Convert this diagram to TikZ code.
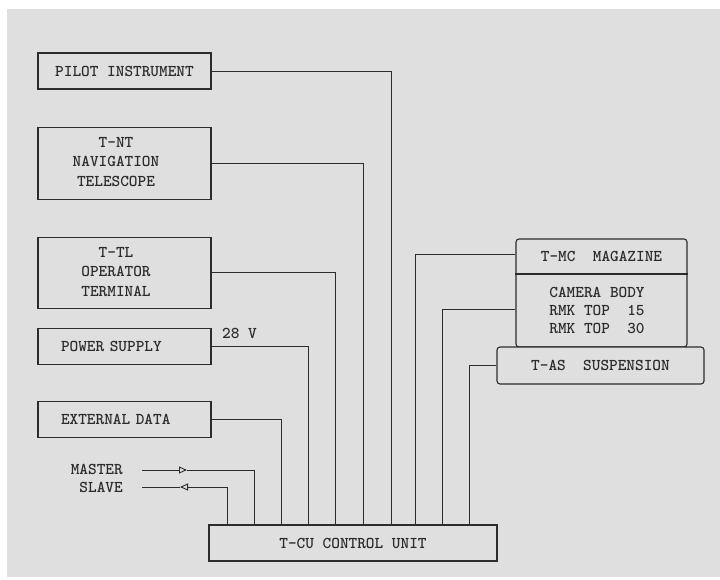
\documentclass[tikz,border=0pt]{standalone}
\usetikzlibrary{positioning,arrows.meta}
\definecolor{paperGray}{HTML}{DFDFDF}
\definecolor{inkGray}{HTML}{2C2C2C}
\newcommand{\typefont}{\fontsize{16.5}{19.5}\selectfont\ttfamily\bfseries}
\tikzset{
    unit/.style={draw=inkGray,line width=1.1pt,minimum width=173pt,
        minimum height=36pt,inner sep=0pt,align=center,font=\typefont,text=inkGray},
    roundunit/.style={unit,rounded corners=3pt},
    wire/.style={draw=inkGray,line width=0.9pt},
    sigtip/.style={wire,-{Triangle[open,length=8pt,width=7pt]}},
    tag/.style={font=\typefont,text=inkGray,inner sep=0pt}
}
\begin{document}
\begin{tikzpicture}[x=1pt,y=1pt,node distance=37pt]
    \useasboundingbox (0,0) rectangle (720,579);
    \fill[paperGray] (7,2) rectangle (720,570);
    % left column
    \node[unit] (pilot) at (124.5,508) {PILOT INSTRUMENT};
    \node[unit,minimum height=72pt] (nav) [below=of pilot]
        {\begin{tabular}{@{}c@{\hspace{17pt}}}T-NT\\NAVIGATION\\TELESCOPE\end{tabular}};
    \node[unit,minimum height=71pt] (term) [below=of nav]
        {\begin{tabular}{@{}c@{\hspace{17pt}}}T-TL\\OPERATOR\\TERMINAL\end{tabular}};
    \node[unit,text width=127pt,align=left] (power) [below=19pt of term] {POWER SUPPLY};
    \node[unit,text width=127pt,align=left] (extdata) [below=36pt of power] {EXTERNAL DATA};
    \node[tag,anchor=east] (master) at (123,110) {MASTER};
    \node[tag,anchor=east] (slave) at (123,92) {SLAVE};
    \node[tag,anchor=west] (volts) at (222,246) {28 V};
    \node[unit,minimum width=288pt] (cu) at (353,36) {T-CU CONTROL UNIT};
    % camera side
    \node[roundunit,minimum width=171pt,minimum height=108pt] (mag) at (601.5,286) {};
    \node[tag] (magtitle) at (601.5,322.5) {T-MC~~MAGAZINE};
    \draw[wire,line width=1.1pt] ([yshift=19pt]mag.west) -- ([yshift=19pt]mag.east);
    \node[tag,align=center,font=\fontsize{16.5}{18}\selectfont\ttfamily\bfseries] (magbody) at (597,269)
        {CAMERA BODY\\RMK TOP~~15\\RMK TOP~~30};
    \node[roundunit,minimum width=207pt,minimum height=37pt,fill=paperGray] (susp) at (600.5,213.5)
        {T-AS~~SUSPENSION};
    % wiring into the control unit
    \draw[wire] (pilot.east) -| ([xshift=183pt]cu.north west);
    \draw[wire] (nav.east) -| ([xshift=155pt]cu.north west);
    \draw[wire] (term.east) -| ([xshift=127pt]cu.north west);
    \draw[wire] (power.east) -| ([xshift=100pt]cu.north west);
    \draw[wire] (extdata.east) -| ([xshift=73pt]cu.north west);
    \coordinate (masterfrom) at (142,109);
    \coordinate (mastertip) at (187,109);
    \draw[sigtip] (masterfrom) -- (mastertip);
    \draw[wire] (mastertip) -| ([xshift=46pt]cu.north west);
    \coordinate (slavefrom) at (142,92);
    \coordinate (slavetip) at (180,92);
    \draw[wire] (slavefrom) -- (slavetip);
    \draw[sigtip] ([xshift=19pt]cu.north west) |- (slavetip);
    \draw[wire] ([yshift=-16pt]mag.north west) -| ([xshift=207pt]cu.north west);
    \draw[wire] ([yshift=-16pt]mag.west) -| ([xshift=234pt]cu.north west);
    \draw[wire] (susp.west) -| ([xshift=261pt]cu.north west);
\end{tikzpicture}
\end{document}
